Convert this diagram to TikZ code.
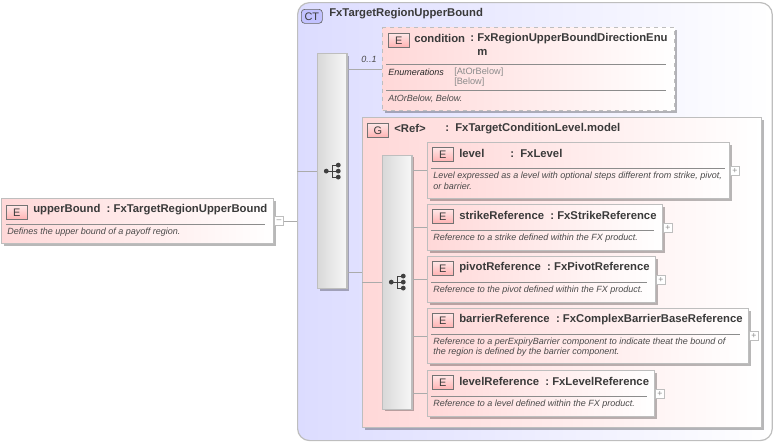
\documentclass[tikz,border=0pt]{standalone}
\usepackage{fontspec}
\setmainfont{Liberation Sans}
\usetikzlibrary{positioning,shadows}
\definecolor{wirecol}{HTML}{ABABAB}
\definecolor{edgecol}{HTML}{BEBEBE}
\definecolor{namecol}{HTML}{3A3A3A}
\definecolor{doccol}{HTML}{4A4A4A}
\definecolor{rosecol}{HTML}{FFD8D8}
\definecolor{bluecol}{HTML}{DCDCFF}
\tikzset{
	boxshadow/.style={drop shadow={shadow xshift=1.7pt, shadow yshift=-1.7pt, fill=black, opacity=0.28}},
	elembox/.style={draw=edgecol, line width=0.9pt, anchor=north west, left color=rosecol, middle color=rosecol!55!white, right color=white, boxshadow},
	seqbar/.style={draw=edgecol, line width=0.9pt, anchor=north west, minimum width=22pt, left color=black!15, right color=black!3, boxshadow},
	badge/.style={draw=black!55, line width=0.5pt, anchor=north west, minimum width=15.75pt, minimum height=10.5pt, inner sep=0pt, top color=rosecol!60!white, bottom color=red!30!white, text=namecol, font=\fontsize{8.2}{9}\selectfont},
	nametext/.style={anchor=west, inner sep=0pt, text=namecol, font=\fontsize{8.48}{10}\selectfont\bfseries},
	doctext/.style={anchor=west, inner sep=0pt, text=doccol, font=\fontsize{6.75}{8}\selectfont\itshape},
	ruleline/.style={black!45, line width=0.5pt},
	wire/.style={wirecol, line width=0.6pt},
	togglebox/.style={draw=edgecol, fill=white, line width=0.6pt, minimum width=6.6pt, minimum height=6.6pt, inner sep=0pt, text=black!45, font=\fontsize{6.5}{6.5}\selectfont, right=0pt of #1},
	seqicon/.pic={
		\draw [black!75, line width=0.6pt] (-4.5pt,0) -- (4.5pt,0) (0,4.5pt) -- (4.5pt,4.5pt) (0,4.5pt) -- (0,-4.5pt) -- (4.5pt,-4.5pt);
		\foreach \dotx/\doty in {-4.5/0, 4.5/0, 4.5/4.5, 4.5/-4.5}
			\fill [black!75] (\dotx pt,\doty pt) circle (1.8pt);
	}
}
\begin{document}
\begin{tikzpicture}[x=0.75pt, y=-0.75pt]
	\useasboundingbox (0,0) rectangle (776,443);

	% outer complex type
	\node [draw=edgecol, line width=0.9pt, rounded corners=9pt, anchor=north west, left color=bluecol, middle color=bluecol!75!white, right color=white, minimum width=356pt, minimum height=328.5pt] (typeBox) at (297, 2) {};
	\node [draw=black!60, line width=0.5pt, rounded corners=2.5pt, anchor=north west, fill=bluecol!70!blue!60!white, minimum width=15.75pt, minimum height=10.5pt, inner sep=0pt, text=namecol, font=\fontsize{8.2}{9}\selectfont] (typeBadge) at (301, 9) {CT};
	\node [nametext] (typeName) at (329, 13.5) {FxTargetRegionUpperBound};

	% root element
	\node [elembox, minimum width=204pt, minimum height=33.75pt] (rootBox) at (1, 198) {};
	\node [badge] (rootBadge) at (6, 205) {E};
	\node [nametext] (rootName) at (33, 209.5) {upperBound\ \ :\ FxTargetRegionUpperBound};
	\draw [ruleline] (6, 224) -- (265, 224);
	\node [doctext] (rootDoc) at (7, 232) {Defines the upper bound of a payoff region.};
	\node [togglebox=rootBox] (rootToggle) {--};

	% first sequence
	\node [seqbar, minimum height=176.25pt] (seqOuter) at (317, 53) {};
	\pic at (seqOuter.center) {seqicon};

	% condition
	\node [elembox, dashed, minimum width=219pt, minimum height=62.25pt] (condBox) at (382, 27) {};
	\node [badge] (condBadge) at (388, 33) {E};
	\node [nametext] (condName) at (414, 38.5) {condition};
	\node [nametext] (condColon) at (470, 38.5) {:};
	\node [nametext] (condType) at (477, 38.5) {FxRegionUpperBoundDirectionEnu};
	\node [nametext] (condTypeEnd) at (477, 52) {m};
	\draw [ruleline] (386, 64) -- (666, 64);
	\node [doctext, font=\fontsize{6.75}{8}\selectfont\itshape, text=black!85] (condEnumLabel) at (388, 72.5) {Enumerations};
	\node [doctext, font=\fontsize{6.9}{8}\selectfont, text=black!45] (condEnumA) at (454, 72) {[AtOrBelow]};
	\node [doctext, font=\fontsize{6.9}{8}\selectfont, text=black!45] (condEnumB) at (454, 82.5) {[Below]};
	\draw [ruleline] (386, 90) -- (666, 90);
	\node [doctext] (condDoc) at (388, 98.5) {AtOrBelow, Below.};
	\node [doctext, anchor=south] (condOccurs) at (369, 63) {0..1};

	% group
	\node [elembox, minimum width=299.25pt, minimum height=232.5pt] (groupBox) at (362, 117) {};
	\node [badge] (groupBadge) at (367, 123) {G};
	\node [nametext] (groupName) at (394, 128.5) {<Ref>};
	\node [nametext] (groupType) at (445, 128.5) {:\ \ FxTargetConditionLevel.model};

	% second sequence
	\node [seqbar, minimum height=190.5pt] (seqInner) at (382, 154.5) {};
	\pic at (seqInner.center) {seqicon};

	% level
	\node [elembox, minimum width=226.5pt, minimum height=42pt] (levelBox) at (427, 142) {};
	\node [badge] (levelBadge) at (432, 147) {E};
	\node [nametext] (levelName) at (459, 153.5) {level};
	\node [nametext] (levelType) at (510, 153.5) {:\ \ FxLevel};
	\draw [ruleline] (431, 168) -- (725, 168);
	\node [doctext] (levelDocA) at (433, 176) {Level expressed as a level with optional steps different from strike, pivot,};
	\node [doctext] (levelDocB) at (433, 186) {or barrier.};
	\node [togglebox=levelBox] (levelToggle) {+};

	% strikeReference
	\node [elembox, minimum width=176.25pt, minimum height=34.5pt] (strikeBox) at (427, 204) {};
	\node [badge] (strikeBadge) at (432, 209) {E};
	\node [nametext] (strikeName) at (459, 215.5) {strikeReference\ \ :\ FxStrikeReference};
	\draw [ruleline] (431, 230) -- (654, 230);
	\node [doctext] (strikeDoc) at (433, 238) {Reference to a strike defined within the FX product.};
	\node [togglebox=strikeBox] (strikeToggle) {+};

	% pivotReference
	\node [elembox, minimum width=171pt, minimum height=34.5pt] (pivotBox) at (427, 256) {};
	\node [badge] (pivotBadge) at (432, 261) {E};
	\node [nametext] (pivotName) at (459, 267.5) {pivotReference\ \ :\ FxPivotReference};
	\draw [ruleline] (431, 282) -- (647, 282);
	\node [doctext] (pivotDoc) at (433, 290) {Reference to the pivot defined within the FX product.};
	\node [togglebox=pivotBox] (pivotToggle) {+};

	% barrierReference
	\node [elembox, minimum width=240.75pt, minimum height=41.25pt] (barrierBox) at (427, 308) {};
	\node [badge] (barrierBadge) at (432, 313) {E};
	\node [nametext] (barrierName) at (459, 319.5) {barrierReference\ \ :\ FxComplexBarrierBaseReference};
	\draw [ruleline] (431, 334) -- (740, 334);
	\node [doctext] (barrierDocA) at (433, 342) {Reference to a perExpiryBarrier component to indicate theat the bound of};
	\node [doctext] (barrierDocB) at (433, 352) {the region is defined by the barrier component.};
	\node [togglebox=barrierBox] (barrierToggle) {+};

	% levelReference
	\node [elembox, minimum width=170.25pt, minimum height=34.5pt] (levelRefBox) at (427, 370) {};
	\node [badge] (levelRefBadge) at (432, 375) {E};
	\node [nametext] (levelRefName) at (459, 381.5) {levelReference\ \ :\ FxLevelReference};
	\draw [ruleline] (431, 396) -- (647, 396);
	\node [doctext] (levelRefDoc) at (433, 404) {Reference to a level defined within the FX product.};
	\node [togglebox=levelRefBox] (levelRefToggle) {+};

	% connectors
	\draw [wire] (rootToggle.east) -- (rootToggle.east -| typeBox.west);
	\draw [wire] (seqOuter.west -| typeBox.west) -- (seqOuter.west);
	\draw [wire] (condBox.west -| seqOuter.east) -- (condBox.west);
	\draw [wire] (groupBox.west -| seqOuter.east) -- (groupBox.west);
	\draw [wire] (seqInner.west -| groupBox.west) -- (seqInner.west);
	\draw [wire] (levelBox.west -| seqInner.east) -- (levelBox.west);
	\draw [wire] (strikeBox.west -| seqInner.east) -- (strikeBox.west);
	\draw [wire] (pivotBox.west -| seqInner.east) -- (pivotBox.west);
	\draw [wire] (barrierBox.west -| seqInner.east) -- (barrierBox.west);
	\draw [wire] (levelRefBox.west -| seqInner.east) -- (levelRefBox.west);
\end{tikzpicture}
\end{document}
